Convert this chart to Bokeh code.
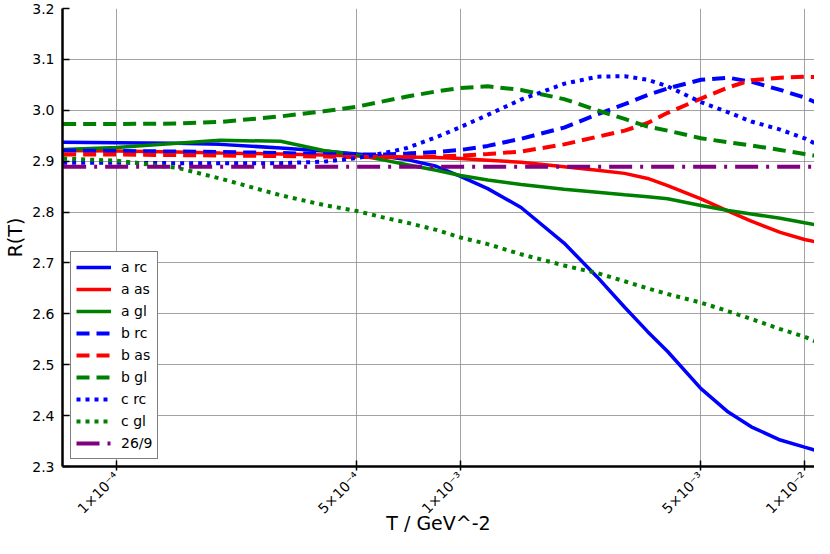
import math
from bokeh.plotting import figure
from bokeh.models import (FixedTicker, Range1d, Legend, LegendItem,
                          CustomJSTickFormatter, NumeralTickFormatter)
from bokeh.embed import file_html
from bokeh.resources import INLINE

# ---- data ----
T = [7e-5, 1e-4, 1.5e-4, 2e-4, 3e-4, 4e-4, 5e-4, 6e-4, 7e-4, 8.5e-4,
     1e-3, 1.2e-3, 1.5e-3, 2e-3, 2.5e-3, 3e-3, 3.5e-3, 4e-3, 5e-3, 6e-3,
     7e-3, 8.5e-3, 1e-2, 1.1e-2]

a_rc = [2.937, 2.936, 2.935, 2.933, 2.926, 2.920, 2.914, 2.909, 2.903, 2.890,
        2.870, 2.846, 2.809, 2.739, 2.672, 2.613, 2.565, 2.526, 2.453, 2.407,
        2.378, 2.352, 2.338, 2.330]
a_as = [2.921, 2.920, 2.918, 2.916, 2.914, 2.912, 2.910, 2.909, 2.908, 2.907,
        2.905, 2.902, 2.898, 2.889, 2.882, 2.876, 2.866, 2.852, 2.826, 2.802,
        2.782, 2.760, 2.746, 2.740]
a_gl = [2.923, 2.927, 2.935, 2.941, 2.939, 2.921, 2.912, 2.902, 2.893, 2.882,
        2.872, 2.863, 2.854, 2.845, 2.839, 2.834, 2.830, 2.826, 2.813, 2.803,
        2.796, 2.788, 2.779, 2.774]
b_rc = [2.921, 2.920, 2.919, 2.918, 2.916, 2.914, 2.913, 2.913, 2.915, 2.918,
        2.922, 2.930, 2.944, 2.966, 2.992, 3.012, 3.030, 3.043, 3.060, 3.064,
        3.056, 3.040, 3.025, 3.013]
b_as = [2.913, 2.913, 2.912, 2.911, 2.910, 2.909, 2.908, 2.908, 2.908, 2.909,
        2.911, 2.914, 2.919, 2.933, 2.948, 2.960, 2.975, 2.995, 3.023, 3.045,
        3.059, 3.064, 3.066, 3.065]
b_gl = [2.973, 2.973, 2.974, 2.977, 2.988, 2.998, 3.007, 3.018, 3.027, 3.037,
        3.044, 3.047, 3.040, 3.022, 3.000, 2.983, 2.968, 2.960, 2.945, 2.937,
        2.931, 2.922, 2.914, 2.910]
c_rc = [2.897, 2.897, 2.896, 2.896, 2.896, 2.899, 2.906, 2.916, 2.926, 2.947,
        2.967, 2.991, 3.021, 3.052, 3.066, 3.067, 3.060, 3.047, 3.016, 2.996,
        2.978, 2.962, 2.945, 2.931]
c_gl = [2.905, 2.901, 2.887, 2.866, 2.833, 2.814, 2.802, 2.789, 2.779, 2.765,
        2.750, 2.737, 2.717, 2.695, 2.680, 2.664, 2.650, 2.639, 2.622, 2.605,
        2.590, 2.570, 2.555, 2.543]
ref_value = 26 / 9

x_ticks = [1e-4, 5e-4, 1e-3, 5e-3, 1e-2]
x_tick_labels = ["1×10⁻⁴", "5×10⁻⁴", "1×10⁻³", "5×10⁻³", "1×10⁻²"]
y_ticks = [2.3, 2.4, 2.5, 2.6, 2.7, 2.8, 2.9, 3.0, 3.1, 3.2]
x_title = "T / GeV^-2"
y_title = "R(T)"

FONT = "DejaVu Sans"

p = figure(width=814, height=538, x_axis_type="log",
           x_range=Range1d(6.97e-5, 1.069e-2), y_range=Range1d(2.3, 3.2),
           output_backend="svg", toolbar_location=None,
           min_border_top=8, min_border_right=0, min_border_left=62,
           min_border_bottom=72)
p.outline_line_color = None
p.background_fill_color = "white"

p.xaxis.ticker = FixedTicker(ticks=x_ticks)
p.xaxis.formatter = CustomJSTickFormatter(
    args=dict(xt=x_ticks, lbl=x_tick_labels),
    code="const i = xt.findIndex(t => Math.abs(t - tick) / t < 1e-6); return i >= 0 ? lbl[i] : '';")
p.yaxis.ticker = FixedTicker(ticks=y_ticks)
p.yaxis.formatter = NumeralTickFormatter(format="0.0")

p.xaxis.major_label_orientation = math.pi / 4
p.xaxis.axis_label = x_title
p.yaxis.axis_label = y_title
for ax in (p.xaxis, p.yaxis):
    ax.axis_label_text_font = FONT
    ax.axis_label_text_font_size = "19px"
    ax.axis_label_text_font_style = "normal"
    ax.axis_label_text_color = "black"
    ax.major_label_text_font = FONT
    ax.major_label_text_color = "black"
    ax.axis_line_color = "black"
    ax.axis_line_width = 2.5
    ax.major_tick_line_color = "black"
    ax.major_tick_line_width = 1.5
    ax.minor_tick_line_color = None
p.yaxis.major_label_text_font_size = "14px"
p.xaxis.major_label_text_font_size = "14px"
p.yaxis.major_tick_in = 7
p.yaxis.major_tick_out = 0
p.xaxis.major_tick_in = 6
p.xaxis.major_tick_out = 4
p.yaxis.major_label_standoff = 8
p.yaxis.axis_label_standoff = 3
p.xaxis.major_label_standoff = 4
p.xaxis.axis_label_standoff = -13

p.grid.grid_line_color = "#8c8c8c"
p.grid.grid_line_width = 1
p.grid.grid_line_alpha = 0.8

SOLID_W = 3.5
DASH = "13 7"
DOT = "4 5"

series = [
    ("a rc", a_rc, "#0000ff", "solid"),
    ("a as", a_as, "#ff0000", "solid"),
    ("a gl", a_gl, "#008000", "solid"),
    ("b rc", b_rc, "#0000ff", DASH),
    ("b as", b_as, "#ff0000", DASH),
    ("b gl", b_gl, "#008000", DASH),
    ("c rc", c_rc, "#0000ff", DOT),
    ("c gl", c_gl, "#008000", DOT),
]

items = []
for name, vals, color, dash in series:
    r = p.line(T, vals, line_color=color, line_width=SOLID_W if dash == "solid" else 4,
               line_dash=dash)
    items.append(LegendItem(label=name, renderers=[r]))

r_ref = p.line([T[0], T[-1]], [ref_value, ref_value], line_color="#800080",
               line_width=4, line_dash="23 8 3 8")
items.append(LegendItem(label="26/9", renderers=[r_ref]))

legend = Legend(items=items, location=(8, 7), margin=0, padding=5,
                glyph_width=35, glyph_height=20, label_height=20, spacing=2,
                label_standoff=10, label_text_font=FONT,
                label_text_font_size="14px", label_text_color="black",
                border_line_color="black", border_line_width=1.5,
                background_fill_color="white", background_fill_alpha=1.0)
p.add_layout(legend)

open("out.html", "w").write(file_html(p, INLINE))
